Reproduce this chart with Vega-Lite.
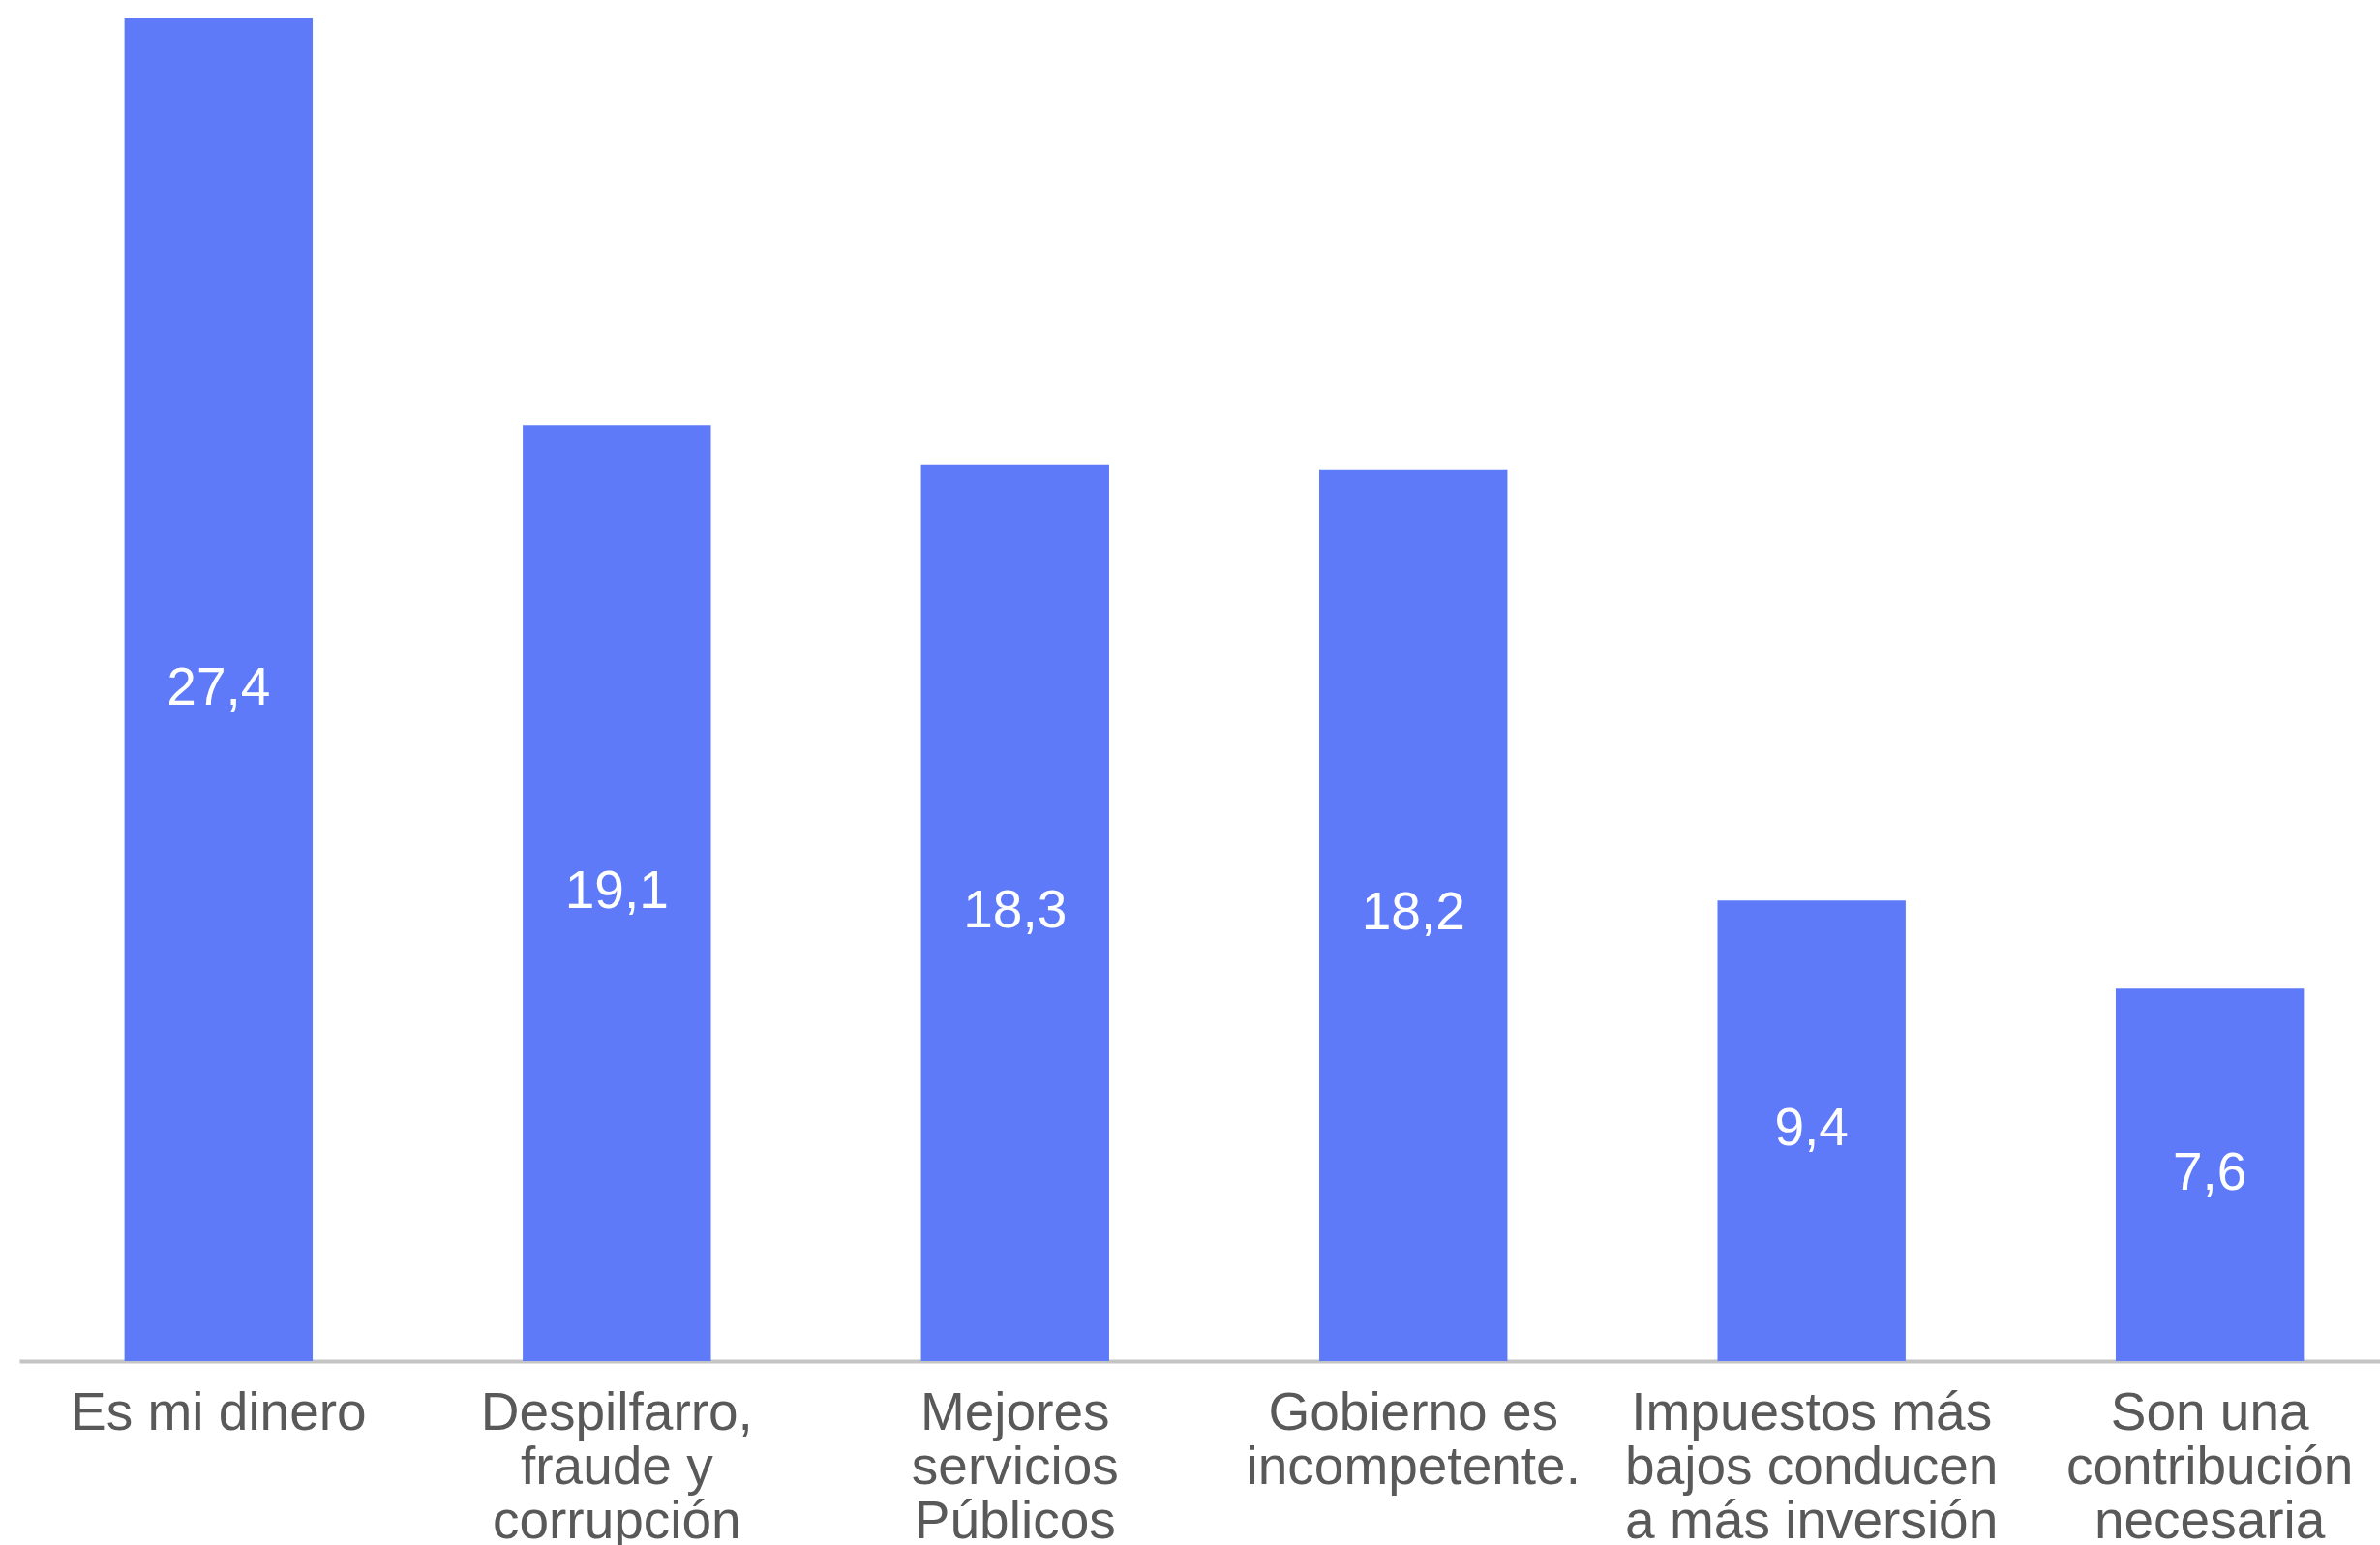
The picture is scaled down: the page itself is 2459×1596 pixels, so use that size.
{
  "$schema": "https://vega.github.io/schema/vega-lite/v6.json",
  "autosize": {"type": "none"},
  "width": 2439,
  "height": 1387,
  "padding": {"left": 20, "top": 19, "right": 0, "bottom": 190},
  "background": "white",
  "config": {
    "view": {"stroke": null},
    "font": "Liberation Sans",
    "locale": {
      "number": {"decimal": ",", "thousands": ".", "grouping": [3], "currency": ["", " €"]}
    }
  },
  "data": {
    "values": [
      {"categoria": "Es mi dinero", "valor": 27.4},
      {"categoria": "Despilfarro, fraude y corrupción", "valor": 19.1},
      {"categoria": "Mejores servicios Públicos", "valor": 18.3},
      {"categoria": "Gobierno es incompetente.", "valor": 18.2},
      {"categoria": "Impuestos más bajos conducen a más inversión", "valor": 9.4},
      {"categoria": "Son una contribución necesaria", "valor": 7.6}
    ]
  },
  "encoding": {
    "x": {
      "field": "categoria",
      "type": "nominal",
      "sort": null,
      "scale": {"range": [0, 2469], "paddingInner": 0.5275, "paddingOuter": 0.264},
      "axis": {
        "title": null,
        "ticks": false,
        "tickSize": 0,
        "grid": false,
        "domainColor": "#c4c4c4",
        "domainWidth": 4,
        "labelAngle": 0,
        "labelFont": "Liberation Sans",
        "labelFontSize": 55,
        "labelColor": "#595959",
        "labelPadding": 27.5,
        "labelLineHeight": 56,
        "labelLimit": 0,
        "labelOverlap": false,
        "labelBound": false,
        "labelExpr": "datum.value == 'Despilfarro, fraude y corrupción' ? ['Despilfarro,', 'fraude y', 'corrupción'] : datum.value == 'Mejores servicios Públicos' ? ['Mejores', 'servicios', 'Públicos'] : datum.value == 'Gobierno es incompetente.' ? ['Gobierno es', 'incompetente.'] : datum.value == 'Impuestos más bajos conducen a más inversión' ? ['Impuestos más', 'bajos conducen', 'a más inversión'] : datum.value == 'Son una contribución necesaria' ? ['Son una', 'contribución', 'necesaria'] : datum.value"
      }
    }
  },
  "layer": [
    {
      "mark": {"type": "bar", "color": "#5E7AF9"},
      "encoding": {
        "y": {
          "field": "valor",
          "type": "quantitative",
          "scale": {"domain": [0, 27.4], "nice": false, "zero": true},
          "axis": null
        }
      }
    },
    {
      "mark": {"type": "text", "color": "white", "fontSize": 55, "font": "Liberation Sans", "baseline": "middle", "align": "center", "dy": -2},
      "encoding": {
        "y": {"field": "valor", "type": "quantitative", "stack": "zero", "bandPosition": 0.5},
        "text": {"field": "valor", "type": "quantitative", "format": ".1f"}
      }
    }
  ]
}
